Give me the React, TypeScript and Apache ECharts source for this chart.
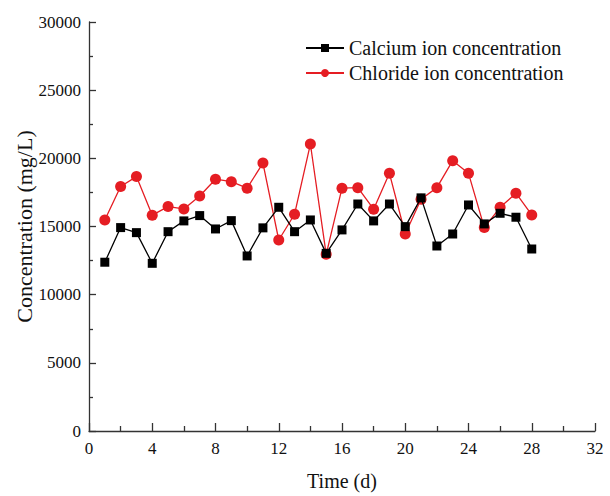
import React, { useEffect, useRef } from "react";
import * as echarts from "echarts";

const days = [1, 2, 3, 4, 5, 6, 7, 8, 9, 10, 11, 12, 13, 14, 15, 16, 17, 18, 19, 20, 21, 22, 23, 24, 25, 26, 27, 28];
const calcium = [12380, 14920, 14550, 12300, 14620, 15410, 15800, 14820, 15430, 12840, 14900, 16410, 14620, 15480, 13030, 14750, 16650, 15410, 16650, 14990, 17100, 13570, 14450, 16580, 15190, 15970, 15680, 13350];
const chloride = [15480, 17930, 18660, 15830, 16460, 16290, 17240, 18470, 18290, 17810, 19650, 14010, 15900, 21050, 12960, 17810, 17850, 16270, 18900, 14450, 17000, 17850, 19830, 18900, 14920, 16410, 17440, 15850];
const seriesNames = ["Calcium ion concentration", "Chloride ion concentration"];

const FONT = "Liberation Serif";

export default function App() {
  const ref = useRef<HTMLDivElement>(null);
  useEffect(() => {
    if (!ref.current) return;
    const chart = echarts.init(ref.current, undefined, { renderer: "svg" });
    const axisLine = { lineStyle: { color: "#333", width: 1.3 } };
    chart.setOption({
      animation: false,
      backgroundColor: "#fff",
      textStyle: { fontFamily: FONT, color: "#111" },
      grid: { left: 89, right: 15, top: 22, bottom: 65, outerBoundsMode: "none", containLabel: false },
      legend: {
        orient: "vertical",
        left: 300,
        top: 33,
        itemWidth: 38,
        itemHeight: 10,
        itemGap: 5,
        textStyle: { fontFamily: FONT, fontSize: 20, color: "#111" },
        data: seriesNames,
      },
      xAxis: {
        type: "value",
        min: 0,
        max: 32,
        interval: 4,
        name: "Time (d)",
        nameLocation: "middle",
        nameGap: 40,
        nameMoveOverlap: false,
        nameTextStyle: { fontFamily: FONT, fontSize: 20, color: "#111" },
        axisLine: { ...axisLine, onZero: false },
        axisTick: { inside: true, length: 8, lineStyle: { color: "#333", width: 1.3 } },
        minorTick: { show: true, splitNumber: 2, length: 5, lineStyle: { color: "#333", width: 1.3 } },
        axisLabel: { fontFamily: FONT, fontSize: 17, color: "#111", margin: 9, formatter: (v: number) => String(v) },
        splitLine: { show: false },
      },
      yAxis: {
        type: "value",
        min: 0,
        max: 30000,
        interval: 5000,
        name: "Concentration (mg/L)",
        nameLocation: "middle",
        nameGap: 54,
        nameMoveOverlap: false,
        nameTextStyle: { fontFamily: FONT, fontSize: 22, color: "#111" },
        axisLine: { show: true, ...axisLine },
        axisTick: { show: true, inside: true, length: 7, lineStyle: { color: "#333", width: 1.3 } },
        minorTick: { show: true, splitNumber: 2, length: 4, lineStyle: { color: "#333", width: 1.3 } },
        axisLabel: { fontFamily: FONT, fontSize: 17, color: "#111", margin: 8, formatter: (v: number) => String(v) },
        splitLine: { show: false },
      },
      series: [
        {
          name: seriesNames[0],
          type: "line",
          data: days.map((d, i) => [d, calcium[i]]),
          symbol: "rect",
          symbolSize: 9,
          itemStyle: { color: "#000" },
          lineStyle: { color: "#000", width: 1.3 },
          z: 3,
        },
        {
          name: seriesNames[1],
          type: "line",
          data: days.map((d, i) => [d, chloride[i]]),
          symbol: "circle",
          symbolSize: 11,
          itemStyle: { color: "#e51d23" },
          lineStyle: { color: "#e51d23", width: 1.3 },
          z: 2,
        },
      ],
    });
    return () => chart.dispose();
  }, []);
  return (
    <div
      ref={ref}
      style={{ position: "absolute", left: 0, top: 0, width: 610, height: 496 }}
    />
  );
}
